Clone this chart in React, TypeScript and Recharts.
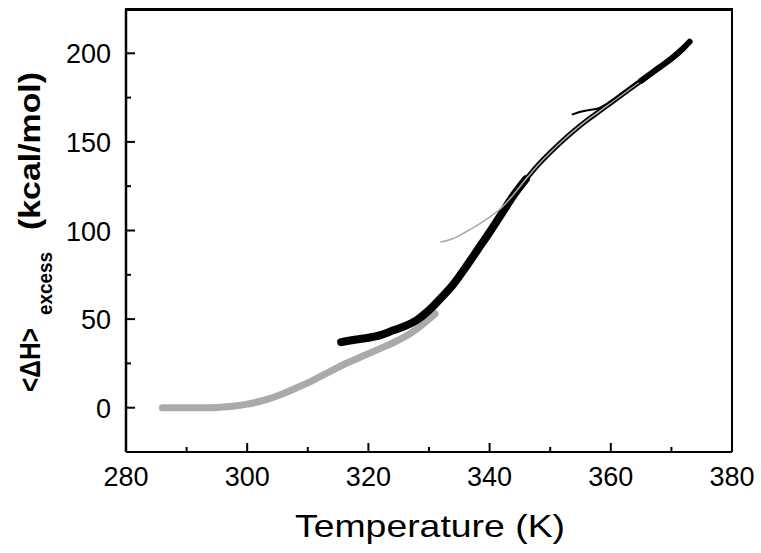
import React from "react";
import { LineChart, Line, XAxis, YAxis } from "recharts";

// heating scan, thick gray
const grayHeatT = [286, 288, 290, 292, 294, 296, 298, 300, 302, 304, 306, 308, 310, 312, 314, 316, 318, 320, 322, 324, 326, 328, 330, 331];
const grayHeatH = [0, 0, 0, 0, 0, 0.4, 1, 2, 3.5, 5.5, 8, 11, 14, 17.5, 21, 24.5, 27.5, 30.5, 33.5, 36.5, 40, 44.5, 50, 53];

// thick black run
const blackHeatT = [315.5, 318, 320, 322, 324, 326, 328, 330, 332, 334, 336, 338, 340, 342, 344, 346];
const blackHeatH = [37, 38.5, 39.5, 41, 43.5, 46, 49.5, 55, 62, 69.5, 79, 89, 99, 109.5, 120, 129];

// thinner black continuation
const blackUpperT = [345, 348, 350, 352, 354, 356, 358, 360, 362, 364, 366, 368, 370, 372, 373];
const blackUpperH = [124.5, 137, 144, 150.5, 156.5, 162, 167, 172, 177, 182, 187, 192, 197, 203, 206.5];

// thin gray run
const grayCoolT = [332, 334, 336, 338, 340, 342, 344, 346, 348, 350, 352, 354, 356, 358, 360, 362, 364, 366];
const grayCoolH = [93.5, 95.5, 99, 103, 107.5, 113, 120.5, 129, 137, 144, 150.5, 156.5, 162, 167, 172, 177, 182, 187];

// short black run starting near 354 K
const blackShortT = [353.7, 355, 356.5, 358, 360, 362, 364, 366, 368, 370, 372, 373];
const blackShortH = [165.5, 167, 168, 169, 173, 178, 183, 188, 193, 198, 203.5, 206.5];

// thick black end
const blackEndT = [365, 366, 368, 370, 372, 373];
const blackEndH = [184.5, 187, 192, 197, 203, 206.5];

const xTicks = [280, 290, 300, 310, 320, 330, 340, 350, 360, 370, 380];
const yTicks = [-25, 0, 25, 50, 75, 100, 125, 150, 175, 200, 225];

const toPoints = (t: number[], h: number[]) => t.map((x, i) => ({ x, y: h[i] }));

const FONT = "'Liberation Sans', Arial, sans-serif";
const W = 761;
const H = 553;
const margin = { top: 9, right: 28, bottom: 61, left: 66 };
const yAxisW = 60;
const xAxisH = 40;
const rightW = 1;
const plotLeft = margin.left + yAxisW;
const plotRight = W - margin.right - rightW;

const XTick = (props: any) => {
  const { x, y, payload } = props;
  const v = payload.value;
  const major = v % 20 === 0;
  return (
    <g>
      <line x1={x} x2={x} y1={y} y2={y - (major ? 9 : 5)} stroke="#000" strokeWidth={2} />
      {major && (
        <text x={x} y={y + 34} textAnchor="middle" fontSize={27} fill="#000" fontFamily={FONT}>
          {v}
        </text>
      )}
    </g>
  );
};

const YTick = (props: any) => {
  const { x, y, payload } = props;
  const v = payload.value;
  const major = v % 50 === 0;
  return (
    <g>
      <line x1={x} x2={x + (major ? 9 : 5)} y1={y} y2={y} stroke="#000" strokeWidth={2} />
      {major && (
        <text x={x - 15} y={y + 10} textAnchor="end" fontSize={27} fill="#000" fontFamily={FONT}>
          {v}
        </text>
      )}
    </g>
  );
};

export default function App() {
  return (
    <div style={{ position: "absolute", left: 0, top: 0, width: W, height: H, background: "#fff" }}>
      <LineChart width={W} height={H} margin={margin}>
        <XAxis
          dataKey="x"
          type="number"
          domain={[280, 380]}
          ticks={xTicks}
          interval={0}
          tickSize={0}
          tickMargin={0}
          tickLine={false}
          tick={<XTick />}
          height={xAxisH}
          axisLine={{ stroke: "#000", strokeWidth: 2 }}
          allowDataOverflow
        />
        <YAxis
          type="number"
          domain={[-25, 225]}
          ticks={yTicks}
          interval={0}
          tickSize={0}
          tickMargin={0}
          tickLine={false}
          tick={<YTick />}
          width={yAxisW}
          axisLine={{ stroke: "#000", strokeWidth: 2.5 }}
          allowDataOverflow
        />
        <YAxis
          yAxisId="right"
          orientation="right"
          type="number"
          domain={[-25, 225]}
          ticks={[-25, 225]}
          tick={false}
          tickLine={false}
          width={rightW}
          axisLine={{ stroke: "#000", strokeWidth: 2 }}
        />
        <Line data={toPoints(grayHeatT, grayHeatH)} dataKey="y" type="monotone" stroke="#aaaaaa" strokeWidth={7} strokeLinecap="round" dot={false} isAnimationActive={false} />
        <Line data={toPoints(blackHeatT, blackHeatH)} dataKey="y" type="monotone" stroke="#000" strokeWidth={8} strokeLinecap="round" dot={false} isAnimationActive={false} />
        <Line data={toPoints(blackUpperT, blackUpperH)} dataKey="y" type="monotone" stroke="#000" strokeWidth={5} strokeLinecap="round" dot={false} isAnimationActive={false} />
        <Line data={toPoints(grayCoolT, grayCoolH)} dataKey="y" type="monotone" stroke="#aaaaaa" strokeWidth={1.6} strokeLinecap="round" dot={false} isAnimationActive={false} />
        <Line data={toPoints(blackShortT, blackShortH)} dataKey="y" type="monotone" stroke="#000" strokeWidth={2} strokeLinecap="round" dot={false} isAnimationActive={false} />
        <Line data={toPoints(blackEndT, blackEndH)} dataKey="y" type="monotone" stroke="#000" strokeWidth={6} strokeLinecap="round" dot={false} isAnimationActive={false} />
      </LineChart>
      <svg width={W} height={H} style={{ position: "absolute", left: 0, top: 0, pointerEvents: "none" }}>
        {/* top edge of the plot frame */}
        <rect x={plotLeft - 1} y={margin.top - 1} width={plotRight - plotLeft + 2} height={3} fill="#000" />
        <text x={295} y={537} fontSize={32} fontFamily={FONT} fill="#000" textLength={270} lengthAdjust="spacingAndGlyphs">
          Temperature (K)
        </text>
        <g transform="rotate(-90)" fontFamily={FONT} fill="#000" fontWeight="bold">
          <text x={-392} y={40} fontSize={30} textLength={64} lengthAdjust="spacingAndGlyphs">
            {"<\u0394H>"}
          </text>
          <text x={-315} y={52} fontSize={21} textLength={63} lengthAdjust="spacingAndGlyphs">
            excess
          </text>
          <text x={-230} y={40} fontSize={30} textLength={158} lengthAdjust="spacingAndGlyphs">
            (kcal/mol)
          </text>
        </g>
      </svg>
    </div>
  );
}
